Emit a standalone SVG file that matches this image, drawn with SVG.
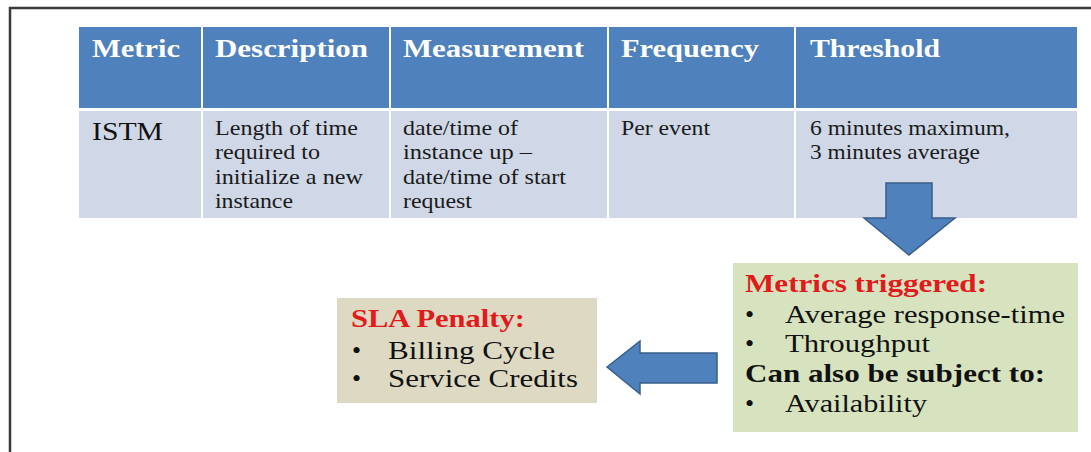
<svg xmlns="http://www.w3.org/2000/svg" width="1091" height="452" viewBox="0 0 1091 452">
  <style>
    .hdr { fill: #4f81bd; }
    .row { fill: #d0d8e8; }
    .grid { stroke: #ffffff; stroke-width: 2; }
    .th { font-family: "Liberation Serif", "Times New Roman", serif; font-weight: bold; font-size: 26px; fill: #ffffff; }
    .td { font-family: "Liberation Serif", "Times New Roman", serif; font-size: 21px; fill: #1a1a1a; }
    .big { font-family: "Liberation Serif", "Times New Roman", serif; font-size: 26px; fill: #111111; }
    .red { font-family: "Liberation Serif", "Times New Roman", serif; font-weight: bold; font-size: 26px; fill: #e01b1b; }
    .bold { font-family: "Liberation Serif", "Times New Roman", serif; font-weight: bold; font-size: 26px; fill: #111111; }
    .arrow { fill: #4f81bd; stroke: #385d8a; stroke-width: 1.5; stroke-linejoin: miter; }
  </style>

  <!-- page background and frame -->
  <rect x="0" y="0" width="1091" height="452" fill="#ffffff"/>
  <path d="M10,452 V8 H1091" fill="none" stroke="#3a3a3a" stroke-width="2.5"/>

  <!-- metrics table -->
  <g id="metrics-table">
    <rect class="hdr" x="79" y="27" width="998" height="81"/>
    <rect class="row" x="79" y="111" width="998" height="107"/>
    <g class="grid">
      <line x1="202" y1="27" x2="202" y2="218"/>
      <line x1="390" y1="27" x2="390" y2="218"/>
      <line x1="608" y1="27" x2="608" y2="218"/>
      <line x1="795" y1="27" x2="795" y2="218"/>
    </g>

    <text class="th" x="92" y="57" textLength="88" lengthAdjust="spacingAndGlyphs">Metric</text>
    <text class="th" x="215" y="57" textLength="153" lengthAdjust="spacingAndGlyphs">Description</text>
    <text class="th" x="403" y="57" textLength="181" lengthAdjust="spacingAndGlyphs">Measurement</text>
    <text class="th" x="621" y="57" textLength="138" lengthAdjust="spacingAndGlyphs">Frequency</text>
    <text class="th" x="810" y="57" textLength="130" lengthAdjust="spacingAndGlyphs">Threshold</text>

    <text class="big" x="92" y="140" font-size="25" textLength="71" lengthAdjust="spacingAndGlyphs">ISTM</text>

    <text class="td" x="215" y="135" textLength="143" lengthAdjust="spacingAndGlyphs">Length of time</text>
    <text class="td" x="215" y="159" textLength="105" lengthAdjust="spacingAndGlyphs">required to</text>
    <text class="td" x="215" y="184" textLength="148" lengthAdjust="spacingAndGlyphs">initialize a new</text>
    <text class="td" x="215" y="208" textLength="78" lengthAdjust="spacingAndGlyphs">instance</text>

    <text class="td" x="403" y="135" textLength="115" lengthAdjust="spacingAndGlyphs">date/time of</text>
    <text class="td" x="403" y="159" textLength="129" lengthAdjust="spacingAndGlyphs">instance up –</text>
    <text class="td" x="403" y="184" textLength="163" lengthAdjust="spacingAndGlyphs">date/time of start</text>
    <text class="td" x="403" y="208" textLength="69" lengthAdjust="spacingAndGlyphs">request</text>

    <text class="td" x="621" y="135" textLength="89" lengthAdjust="spacingAndGlyphs">Per event</text>

    <text class="td" x="810" y="135" textLength="200" lengthAdjust="spacingAndGlyphs">6 minutes maximum,</text>
    <text class="td" x="810" y="159" textLength="170" lengthAdjust="spacingAndGlyphs">3 minutes average</text>
  </g>

  <!-- penalty box -->
  <g id="sla-penalty">
    <rect x="337" y="298" width="260" height="105" fill="#ddd9c3"/>
    <text class="red" x="351" y="327" textLength="174" lengthAdjust="spacingAndGlyphs">SLA Penalty:</text>
    <text class="big" x="352" y="359">•</text>
    <text class="big" x="388" y="359" textLength="167" lengthAdjust="spacingAndGlyphs">Billing Cycle</text>
    <text class="big" x="352" y="387">•</text>
    <text class="big" x="388" y="387" textLength="190" lengthAdjust="spacingAndGlyphs">Service Credits</text>
  </g>

  <!-- triggered metrics box -->
  <g id="metrics-triggered">
    <rect x="733" y="263" width="345" height="169" fill="#d7e3bf"/>
    <text class="red" x="745" y="292" textLength="242" lengthAdjust="spacingAndGlyphs">Metrics triggered:</text>
    <text class="big" x="745" y="323">•</text>
    <text class="big" x="785" y="323" textLength="280" lengthAdjust="spacingAndGlyphs">Average response-time</text>
    <text class="big" x="745" y="352">•</text>
    <text class="big" x="785" y="352" textLength="145" lengthAdjust="spacingAndGlyphs">Throughput</text>
    <text class="bold" x="745" y="382" textLength="300" lengthAdjust="spacingAndGlyphs">Can also be subject to:</text>
    <text class="big" x="745" y="412">•</text>
    <text class="big" x="785" y="412" textLength="142" lengthAdjust="spacingAndGlyphs">Availability</text>
  </g>

  <!-- block arrows -->
  <g id="connectors">
    <polygon class="arrow" points="886,183 932,183 932,218 955,218 909,255 864,218 886,218"/>
    <polygon class="arrow" points="607,367 640,341 640,353 717,353 717,383 640,383 640,394"/>
  </g>
</svg>
